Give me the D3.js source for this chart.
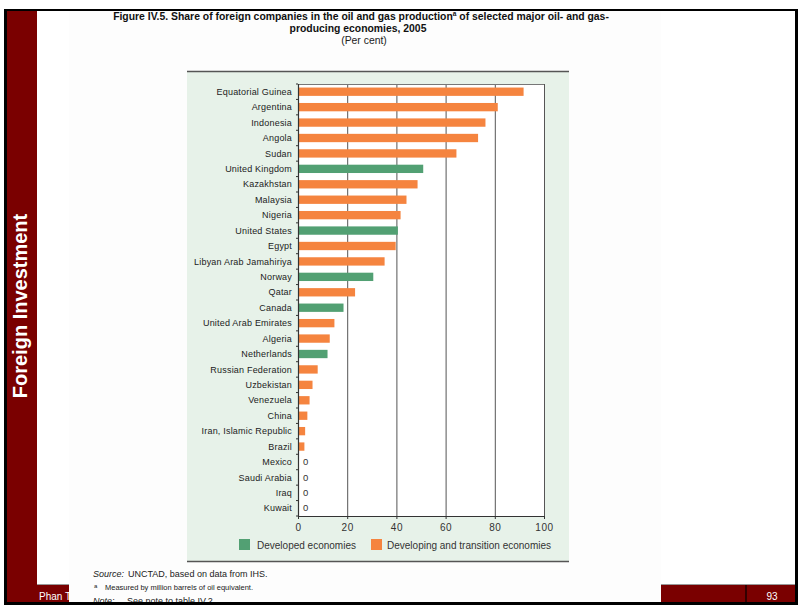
<!DOCTYPE html>
<html>
<head>
<meta charset="utf-8">
<script src="https://cdn.jsdelivr.net/npm/d3@7"></script>
<style>
  html, body { margin: 0; padding: 0; background: #fff; }
  svg { display: block; font-family: "Liberation Sans", Arial, sans-serif; }
</style>
</head>
<body>
<svg id="c" width="803" height="605"></svg>
<script>
const categories = ["Equatorial Guinea","Argentina","Indonesia","Angola","Sudan","United Kingdom","Kazakhstan","Malaysia","Nigeria","United States","Egypt","Libyan Arab Jamahiriya","Norway","Qatar","Canada","United Arab Emirates","Algeria","Netherlands","Russian Federation","Uzbekistan","Venezuela","China","Iran, Islamic Republic","Brazil","Mexico","Saudi Arabia","Iraq","Kuwait"];
const values = [91.5,81.0,76.0,73.0,64.2,50.7,48.4,43.9,41.5,40.4,39.5,35.0,30.4,23.0,18.3,14.6,12.7,11.8,7.8,5.7,4.5,3.6,2.7,2.4,0,0,0,0];
const groups = ["D","D","D","D","D","A","D","D","D","A","D","D","A","D","A","D","D","A","D","D","D","D","D","D","D","D","D","D"];
const xTicks = [0,20,40,60,80,100];
const legendLabels = ["Developed economies","Developing and transition economies"];
const colors = {A: "#52a073", D: "#f5843f"};

const svg = d3.select("#c");
const red = "#7a0000";
const font = "'Liberation Sans', Arial, sans-serif";

// frame
svg.append("rect").attr("x",0).attr("y",0).attr("width",803).attr("height",605).attr("fill","#fff");
svg.append("rect").attr("x",4).attr("y",9).attr("width",794).attr("height",596).attr("fill","#000");
svg.append("rect").attr("x",7).attr("y",11).attr("width",30).attr("height",591).attr("fill",red);
svg.append("rect").attr("x",37).attr("y",11).attr("width",758).attr("height",573).attr("fill","#fff");
svg.append("rect").attr("x",37).attr("y",584).attr("width",758).attr("height",1).attr("fill","#999");
svg.append("rect").attr("x",37).attr("y",585).attr("width",758).attr("height",17).attr("fill",red);
svg.append("rect").attr("x",745).attr("y",585).attr("width",2).attr("height",17).attr("fill","#300");
svg.append("text").attr("x",772).attr("y",600).attr("fill","#fff").attr("font-size",10).attr("text-anchor","middle").text("93");
svg.append("text").attr("x",39).attr("y",600).attr("fill","#fff").attr("font-size",10).text("Phan T");
svg.append("text").attr("transform","translate(27,306) rotate(-90)").attr("fill","#fff")
  .attr("font-size",20).attr("font-weight","bold").attr("text-anchor","middle").text("Foreign Investment");

// page
svg.append("rect").attr("x",69).attr("y",11).attr("width",592).attr("height",591).attr("fill","#fdfdfd");

// title
const t1 = svg.append("text").attr("x",361).attr("y",19.5).attr("text-anchor","middle")
  .attr("font-size",10.4).attr("font-weight","bold").attr("fill","#111");
t1.append("tspan").text("Figure IV.5. Share of foreign companies in the oil and gas production");
t1.append("tspan").attr("font-size",6.5).attr("dy",-3.5).text("a");
t1.append("tspan").attr("dy",3.5).text(" of selected major oil- and gas-");
svg.append("text").attr("x",358).attr("y",31.5).attr("text-anchor","middle")
  .attr("font-size",10.4).attr("font-weight","bold").attr("fill","#111").text("producing economies, 2005");
svg.append("text").attr("x",364).attr("y",43.5).attr("text-anchor","middle")
  .attr("font-size",10.4).attr("fill","#222").text("(Per cent)");

// panel
svg.append("rect").attr("x",187).attr("y",71).attr("width",382).attr("height",491).attr("fill","#e7f2e9");
svg.append("line").attr("x1",187).attr("x2",569).attr("y1",71.5).attr("y2",71.5).attr("stroke","#555").attr("stroke-width",1.5);
svg.append("line").attr("x1",187).attr("x2",569).attr("y1",561.5).attr("y2",561.5).attr("stroke","#555").attr("stroke-width",1.5);

// scales
const x = d3.scaleLinear().domain([0,100]).range([298,544]);
const y = d3.scaleBand().domain(categories).range([84,516]).paddingInner(0.46).paddingOuter(0.23);

// plot area
svg.append("rect").attr("x",x(0)).attr("y",84).attr("width",x(100)-x(0)).attr("height",432).attr("fill","#fff");
svg.append("g").selectAll("line").data(xTicks.slice(1)).join("line")
  .attr("x1",d=>x(d)+0.5).attr("x2",d=>x(d)+0.5).attr("y1",84).attr("y2",516)
  .attr("stroke","#555").attr("stroke-width",1);
svg.append("line").attr("x1",x(0)).attr("x2",x(100)).attr("y1",84.5).attr("y2",84.5).attr("stroke","#777");

// bars
svg.append("g").selectAll("rect").data(categories).join("rect")
  .attr("x",x(0)+0.5).attr("y",d=>y(d)).attr("height",y.bandwidth())
  .attr("width",(d,i)=>Math.max(0,x(values[i])-x(0)))
  .attr("fill",(d,i)=>colors[groups[i]]);

// zero labels
svg.append("g").selectAll("text").data(categories.filter((d,i)=>values[i]===0)).join("text")
  .attr("x",x(0)+5).attr("y",d=>y(d)+y.bandwidth()/2+3.2).attr("font-size",9.5).attr("fill","#333").text("0");

// category labels
svg.append("g").selectAll("text").data(categories).join("text")
  .attr("x",292).attr("y",d=>y(d)+y.bandwidth()/2+3.2).attr("text-anchor","end")
  .attr("font-size",9).attr("fill","#222").attr("letter-spacing",0.2).text(d=>d);

// left axis with ticks at band boundaries
const step = y.step();
const bounds = d3.range(categories.length+1).map(i => y(categories[0]) - step*y.paddingInner()/2 + i*step);
svg.append("line").attr("x1",x(0)+0.5).attr("x2",x(0)+0.5).attr("y1",84).attr("y2",517).attr("stroke","#333").attr("stroke-width",1.2);
svg.append("g").selectAll("line").data(bounds).join("line")
  .attr("x1",x(0)-2).attr("x2",x(0)).attr("y1",d=>d).attr("y2",d=>d).attr("stroke","#333");

// x axis
const xa = svg.append("g").attr("transform","translate(0,516)")
  .call(d3.axisBottom(x).tickValues(xTicks).tickSize(3).tickSizeOuter(0).tickFormat(d3.format("d")));
xa.select(".domain").attr("stroke","#333").attr("stroke-width",1.2);
xa.selectAll(".tick line").attr("stroke","#333");
xa.selectAll(".tick text").attr("font-family",font).attr("font-size",10).attr("letter-spacing",0.6)
  .attr("fill","#333").attr("dy","0.85em");

// legend
const leg = [{k:"A",x:239,tx:257,label:legendLabels[0]},{k:"D",x:371,tx:387,label:legendLabels[1]}];
const lg = svg.append("g").selectAll("g").data(leg).join("g");
lg.append("rect").attr("x",d=>d.x).attr("y",539).attr("width",11).attr("height",11).attr("fill",d=>colors[d.k]);
lg.append("text").attr("x",d=>d.tx).attr("y",549).attr("font-size",10).attr("fill","#333").text(d=>d.label);

// footnotes
const s = svg.append("text").attr("x",93).attr("y",577).attr("font-size",9).attr("fill","#222");
s.append("tspan").attr("font-style","italic").text("Source:");
s.append("tspan").attr("dx",4).text("UNCTAD, based on data from IHS.");
svg.append("text").attr("x",94).attr("y",588).attr("font-size",6).attr("fill","#222").text("a");
svg.append("text").attr("x",105).attr("y",590).attr("font-size",7.5).attr("fill","#222").text("Measured by million barrels of oil equivalent.");
svg.append("text").attr("x",93).attr("y",604).attr("font-size",9).attr("font-style","italic").attr("fill","#222").text("Note:");
svg.append("text").attr("x",127).attr("y",604).attr("font-size",9).attr("fill","#222").text("See note to table IV.2.");
svg.append("rect").attr("x",4).attr("y",602).attr("width",794).attr("height",3).attr("fill","#000");
</script>
</body>
</html>
